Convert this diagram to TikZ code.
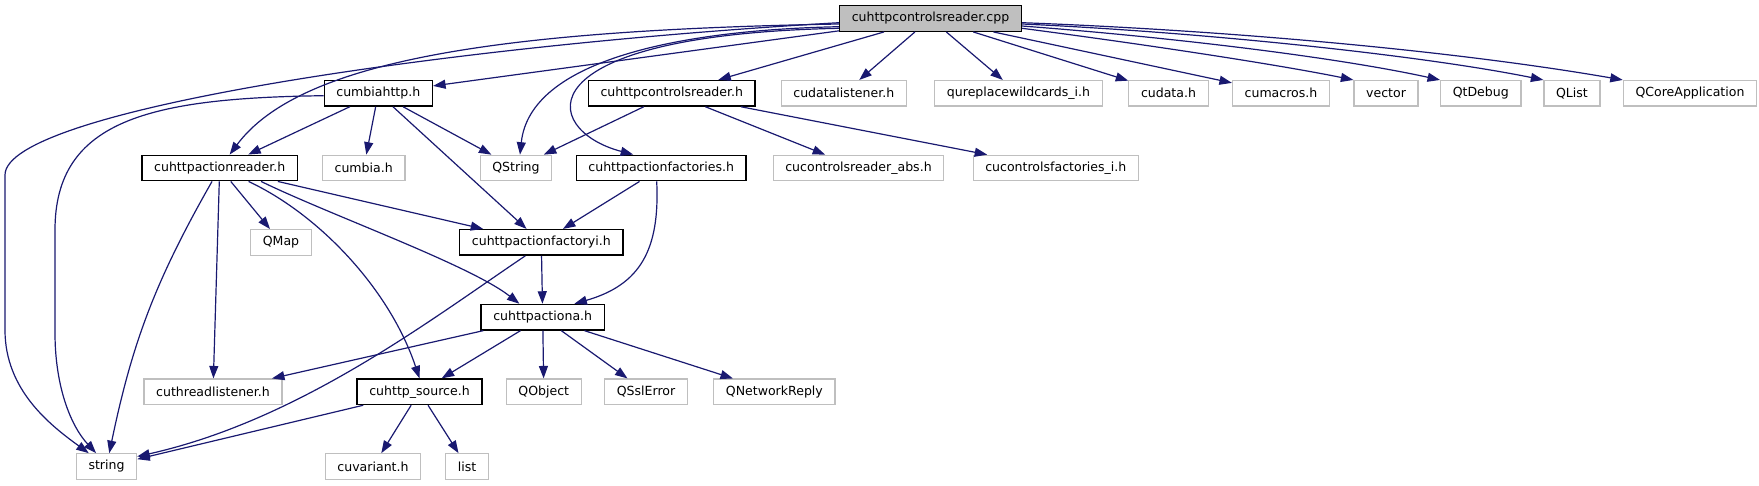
\documentclass[tikz,border=0pt]{standalone}
\usepackage{fontspec}
\setmainfont{DejaVu Sans}
\usetikzlibrary{arrows.meta}
\definecolor{incblue}{HTML}{191970}
\definecolor{boxgrey}{HTML}{BFBFBF}

\begin{document}
\begin{tikzpicture}[x=1pt,y=1pt,>={Triangle[length=12.5pt,width=9pt]},
  every node/.style={font=\fontsize{12.54}{15}\selectfont,inner xsep=12.15pt,inner ysep=0pt,minimum height=25.5pt},
  rootbox/.style={draw=black,line width=1.4pt,fill=boxgrey},
  docbox/.style={draw=black,line width=1.4pt,fill=white},
  extbox/.style={draw=boxgrey,line width=1.2pt,fill=white},
  inc/.style={->,draw=incblue,line width=1.2pt}]
\useasboundingbox (0,0) rectangle (1759,-485);
\node[rootbox] (cpp) at (930.5,-18.5) {cuhttpcontrolsreader.cpp};
\node[docbox] (cumbiahttp) at (378.3,-93.3) {cumbiahttp.h};
\node[docbox] (ctrlreader) at (671.8,-93.3) {cuhttpcontrolsreader.h};
\node[extbox] (datalistener) at (843.8,-93.3) {cudatalistener.h};
\node[extbox] (wildcards) at (1018.5,-93.3) {qureplacewildcards\_i.h};
\node[extbox] (cudata) at (1168.5,-93.3) {cudata.h};
\node[extbox] (cumacros) at (1281,-93.3) {cumacros.h};
\node[extbox] (vector) at (1386,-93.3) {vector};
\node[extbox] (qtdebug) at (1480.8,-93.3) {QtDebug};
\node[extbox] (qlist) at (1572,-93.3) {QList};
\node[extbox] (qcoreapp) at (1690,-93.3) {QCoreApplication};
\node[docbox] (actreader) at (219.7,-168) {cuhttpactionreader.h};
\node[extbox] (cumbia) at (363.7,-168) {cumbia.h};
\node[extbox] (qstring) at (516,-168) {QString};
\node[docbox] (actfactories) at (661.2,-168) {cuhttpactionfactories.h};
\node[extbox] (ctrlreaderabs) at (858.5,-168) {cucontrolsreader\_abs.h};
\node[extbox] (ctrlfactories) at (1055.8,-168) {cucontrolsfactories\_i.h};
\node[extbox] (qmap) at (281,-242.4) {QMap};
\node[docbox] (actfactoryi) at (541.3,-242.4) {cuhttpactionfactoryi.h};
\node[docbox] (actiona) at (542.7,-317.2) {cuhttpactiona.h};
\node[extbox] (threadlistener) at (213,-391.8) {cuthreadlistener.h};
\node[docbox] (source) at (419.5,-391.8) {cuhttp\_source.h};
\node[extbox] (qobject) at (543.8,-391.8) {QObject};
\node[extbox] (qsslerror) at (646,-391.8) {QSslError};
\node[extbox] (qnetreply) at (774.4,-391.8) {QNetworkReply};
\node[extbox] (string) at (106.5,-466.5) {string};
\node[extbox] (cuvariant) at (373,-466.5) {cuvariant.h};
\node[extbox] (list) at (467,-466.5) {list};

\draw[inc] ([yshift=-4.2pt]cpp.west) .. controls (450,-45) and (5,-110) .. (5,-175) -- (5,-330) .. controls (5,-390) and (50,-425) .. (string.143);
\draw[inc] ([yshift=-5.5pt]cpp.west) .. controls (500,-30) and (300,-60) .. ([xshift=10pt]actreader.north);
\draw[inc] ([yshift=-8.2pt]cpp.west) .. controls (680,-30) and (530,-60) .. ([xshift=4pt]qstring.north);
\draw[inc] ([yshift=-9.8pt]cpp.west) .. controls (520,-35) and (540,-130) .. ([xshift=-28pt]actfactories.north);
\draw[inc] (cpp) -- (cumbiahttp);
\draw[inc] (cpp) -- (ctrlreader);
\draw[inc] (cpp) -- (datalistener);
\draw[inc] (cpp) -- (wildcards);
\draw[inc] (cpp) -- (cudata);
\draw[inc] (cpp) -- (cumacros);
\draw[inc] ([yshift=-9.8pt]cpp.east) .. controls (1150,-45) and (1280,-65) .. (vector.north west);
\draw[inc] ([yshift=-7.5pt]cpp.east) .. controls (1180,-38) and (1340,-58) .. (qtdebug.north west);
\draw[inc] ([yshift=-5.5pt]cpp.east) .. controls (1200,-32) and (1420,-55) .. (qlist.north west);
\draw[inc] ([yshift=-4.2pt]cpp.east) .. controls (1220,-30) and (1450,-50) .. (qcoreapp.north west);

\draw[inc] ([yshift=-2.4pt]cumbiahttp.west) .. controls (150,-98) and (55,-120) .. (55,-230) -- (55,-333) .. controls (55,-385) and (70,-425) .. (string.128);
\draw[inc] (cumbiahttp) -- (actreader);
\draw[inc] (cumbiahttp) -- (cumbia);
\draw[inc] (cumbiahttp) -- (qstring);
\draw[inc] (cumbiahttp) -- (actfactoryi);
\draw[inc] (ctrlreader) -- (qstring);
\draw[inc] (ctrlreader) -- (ctrlreaderabs);
\draw[inc] (ctrlreader) -- (ctrlfactories);

\draw[inc] (actreader) to[bend right=9] (string);
\draw[inc] (actreader) -- (threadlistener);
\draw[inc] (actreader) -- (qmap);
\draw[inc] (actreader.335) .. controls (320,-215) and (390,-290) .. (source.north);
\draw[inc] (actreader.342) .. controls (330,-215) and (470,-265) .. (actiona.150);
\draw[inc] (actreader) -- (actfactoryi);
\draw[inc] (actfactories) -- (actfactoryi);
\draw[inc] ([xshift=-4.5pt]actfactories.south) .. controls (660,-250) and (640,-285) .. (actiona.23);
\draw[inc] ([xshift=-16pt]actfactoryi.south) .. controls (430,-320) and (300,-420) .. (string.18);
\draw[inc] (actfactoryi) -- (actiona);

\draw[inc] (actiona) -- (threadlistener);
\draw[inc] (actiona) -- (source);
\draw[inc] (actiona) -- (qobject);
\draw[inc] (actiona) -- (qsslerror);
\draw[inc] (actiona) -- (qnetreply);
\draw[inc] (source) -- (string);
\draw[inc] (source) -- (cuvariant);
\draw[inc] (source) -- (list);
\end{tikzpicture}
\end{document}
